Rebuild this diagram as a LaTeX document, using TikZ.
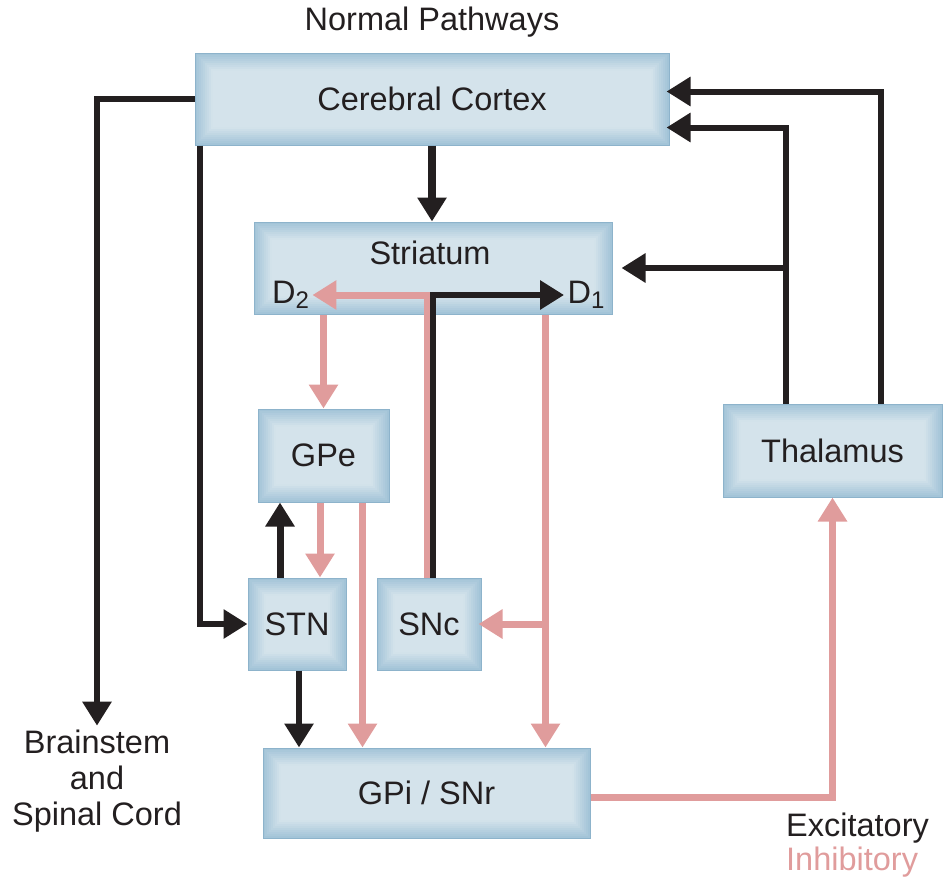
\documentclass[tikz,border=0pt]{standalone}
\usepackage{fontspec}
\setmainfont{Liberation Sans}
\usetikzlibrary{arrows.meta,calc}
\definecolor{boxin}{HTML}{D4E3EB}
\definecolor{boxdark}{HTML}{A3C4D8}
\definecolor{boxline}{HTML}{8DB3CB}
\definecolor{inhcol}{HTML}{E09C9C}
\definecolor{txt}{HTML}{231F20}
\begin{document}
\begin{tikzpicture}[x=1pt,y=-1pt,
  every node/.style={font=\fontsize{32.5}{36}\selectfont, text=txt},
  box/.style={draw=boxline, line width=1pt, fill=boxin, inner sep=0pt,
    path picture={
      \foreach \k in {0,...,8}{
        \pgfmathtruncatemacro\pc{\k*12}
        \pgfmathsetmacro\ins{\k*2}
        \fill[boxin!\pc!boxdark] ([shift={(\ins pt,\ins pt)}]path picture bounding box.south west) rectangle ([shift={(-\ins pt,-\ins pt)}]path picture bounding box.north east);
      }
      \fill[boxin] ([shift={(18pt,18pt)}]path picture bounding box.south west) rectangle ([shift={(-18pt,-18pt)}]path picture bounding box.north east);
    }},
  ex/.style={draw=txt, line width=6pt, -{Triangle[width=28pt,length=24pt]}},
  inh/.style={draw=inhcol, line width=7pt, -{Triangle[width=28pt,length=24pt]}},
]
\useasboundingbox (0,0) rectangle (943,881);

\node (title) at (432,22) {Normal Pathways};
\node[box, minimum width=474pt, minimum height=92pt] (cortex) at (432,99) {Cerebral Cortex};
\node[box, minimum width=358pt, minimum height=92pt] (striatum) at (433,268) {};
\node (striatumlbl) at (430,253) {Striatum};
\node (d2) at (290.5,295) {D\raisebox{-5pt}{\fontsize{24}{24}\selectfont 2}};
\node (d1) at (586,295) {D\raisebox{-5pt}{\fontsize{24}{24}\selectfont 1}};
\node[box, minimum width=131pt, minimum height=93pt] (gpe) at (323.5,455.5) {GPe};
\node[box, minimum width=98pt, minimum height=92pt] (stn) at (297,624) {STN};
\node[box, minimum width=104pt, minimum height=92pt] (snc) at (429,624) {SNc};
\node[box, minimum width=219pt, minimum height=93pt] (thal) at (832.5,450.5) {Thalamus};
\node[box, minimum width=327pt, minimum height=90pt] (gpi) at (426.5,793) {GPi / SNr};
\node[align=center, inner sep=0pt] (brain) at (97,781) {Brainstem\\and\\Spinal Cord};
\node[anchor=west, inner sep=0pt] (exl) at (786,828) {Excitatory};
\node[anchor=west, inner sep=0pt, text=inhcol] (inl) at (786,862) {Inhibitory};

% cortex outputs
\draw[ex, shorten >=4pt] (cortex.west) -| (brain.north);
\coordinate (c1) at ($(cortex.south west)+(5,0)$);
\draw[ex] (c1) |- (stn.west);
\draw[ex, line width=8pt] (cortex.south) -- (cortex.south |- striatum.north);

% thalamus outputs
\coordinate (t1) at ($(thal.north)+(48,0)$);
\coordinate (t2) at ($(thal.north)+(-47,0)$);
\draw[ex, shorten >=-3pt] (t1) |- ($(cortex.north east)+(0,39)$);
\draw[ex, shorten >=-3pt] (t2) |- ($(cortex.south east)+(0,-18)$);
\draw[ex, shorten >=9pt] (t2 |- striatum.east) -- (striatum.east);

% SNc to striatum
\coordinate (s1) at ($(snc.north)+(-2,0)$);
\coordinate (s2) at ($(snc.north)+(4,0)$);
\draw[inh] (s1) |- (d2.east);
\draw[ex] (s2) |- (d1.west);

% D2 -> GPe
\draw[inh] (gpe.north |- striatum.south) -- (gpe.north);
% D1 -> GPi and SNc
\coordinate (d1s) at ($(striatum.south east)+(-67,0)$);
\draw[inh] (d1s) -- (d1s |- gpi.north);
\draw[inh, shorten >=-3pt] (d1s |- snc.east) -- (snc.east);

% GPe / STN
\coordinate (g1) at ($(gpe.south)+(-3.5,0)$);
\draw[inh] (g1) -- (g1 |- stn.north);
\coordinate (st1) at ($(stn.north)+(-17,0)$);
\draw[ex, line width=7pt] (st1) -- (st1 |- gpe.south);
\coordinate (g2) at ($(gpe.south east)+(-27,0)$);
\draw[inh] (g2) -- (g2 |- gpi.north);
\coordinate (st2) at ($(stn.south)+(2,0)$);
\draw[ex] (st2) -- (st2 |- gpi.north);

% GPi -> Thalamus
\draw[inh] ($(gpi.east)+(0,4)$) -| (thal.south);
\end{tikzpicture}
\end{document}
